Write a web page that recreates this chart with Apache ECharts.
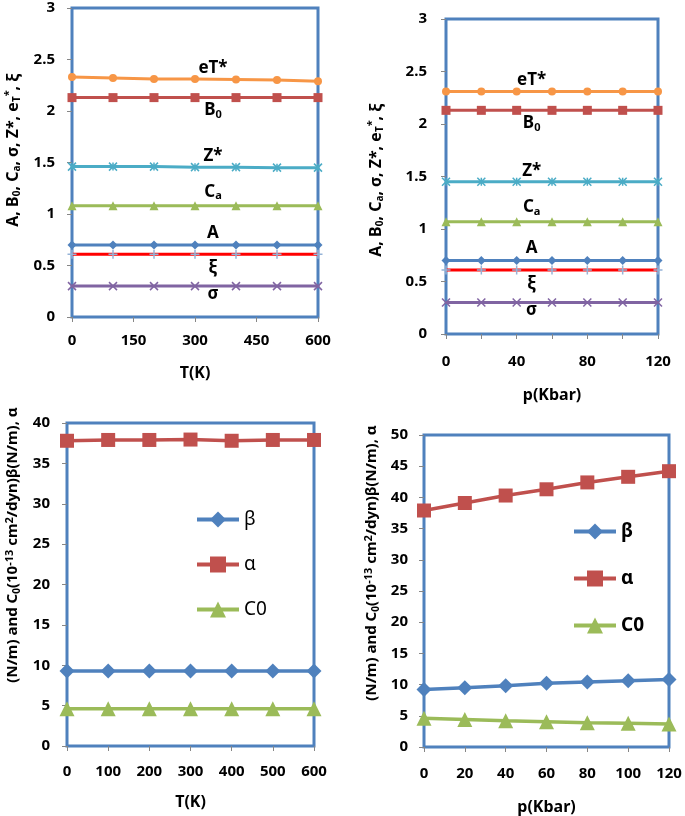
<!DOCTYPE html>
<html>
<head>
<meta charset="utf-8">
<script src="https://cdn.jsdelivr.net/npm/echarts@6/dist/echarts.min.js"></script>
<style>
  html, body { margin: 0; padding: 0; background: #fff; }
  #chart { width: 685px; height: 816px; }
</style>
</head>
<body>
<div id="chart"></div>
<script>
// x values
const tempK = [0, 100, 200, 300, 400, 500, 600]
const presKbar = [0, 20, 40, 60, 80, 100, 120]

// top left: vs T
const eT_T = [2.33, 2.32, 2.31, 2.31, 2.305, 2.30, 2.29]
const B0_T = [2.13, 2.13, 2.13, 2.13, 2.13, 2.13, 2.13]
const Z_T = [1.46, 1.46, 1.46, 1.455, 1.455, 1.45, 1.45]
const Ca_T = [1.08, 1.08, 1.08, 1.08, 1.08, 1.08, 1.08]
const A_T = [0.70, 0.70, 0.70, 0.70, 0.70, 0.70, 0.70]
const xi_T = [0.61, 0.61, 0.61, 0.61, 0.61, 0.61, 0.61]
const sigma_T = [0.30, 0.30, 0.30, 0.30, 0.30, 0.30, 0.30]

// top right: vs p
const eT_p = [2.31, 2.31, 2.31, 2.31, 2.31, 2.31, 2.31]
const B0_p = [2.13, 2.13, 2.13, 2.13, 2.13, 2.13, 2.13]
const Z_p = [1.45, 1.45, 1.45, 1.45, 1.45, 1.45, 1.45]
const Ca_p = [1.07, 1.07, 1.07, 1.07, 1.07, 1.07, 1.07]
const A_p = [0.70, 0.70, 0.70, 0.70, 0.70, 0.70, 0.70]
const xi_p = [0.61, 0.61, 0.61, 0.61, 0.61, 0.61, 0.61]
const sigma_p = [0.30, 0.30, 0.30, 0.30, 0.30, 0.30, 0.30]

// bottom left: vs T
const beta_T = [9.3, 9.3, 9.3, 9.3, 9.3, 9.3, 9.3]
const alpha_T = [37.8, 37.9, 37.9, 37.95, 37.8, 37.9, 37.9]
const C0_T = [4.6, 4.6, 4.6, 4.6, 4.6, 4.6, 4.6]

// bottom right: vs p
const beta_p = [9.2, 9.5, 9.8, 10.2, 10.4, 10.6, 10.8]
const alpha_p = [37.9, 39.1, 40.3, 41.3, 42.4, 43.3, 44.2]
const C0_p = [4.6, 4.4, 4.2, 4.05, 3.9, 3.8, 3.7]

const FONT = 'Noto Sans'
const FRAME = '#4F81BD'
const TICK = '#868686'

function richOf(size) {
  return {
    m: { fontFamily: FONT, fontWeight: 'bold', fontSize: size, color: '#000', lineHeight: size + 3 },
    s: { fontFamily: FONT, fontWeight: 'bold', fontSize: Math.round(size * 0.65), color: '#000', lineHeight: 10, verticalAlign: 'bottom' },
    p: { fontFamily: FONT, fontWeight: 'bold', fontSize: Math.round(size * 0.7), color: '#000', lineHeight: 10, verticalAlign: 'top' }
  }
}
const labelRich = richOf(17)

const PLUS = 'path://M0,5L10,5M5,0L5,10'
const CROSS = 'path://M0,0L10,10M10,0L0,10'
const STAR = 'path://M0,0L10,10M10,0L0,10M5,0L5,10'

function pairs(xs, ys) {
  return xs.map((x, i) => [x, ys[i]])
}

// one labelled point per curve (top panels)
function labelled(xs, ys, idx, text, offset) {
  return xs.map((x, i) => {
    if (i !== idx) return [x, ys[i]]
    return {
      value: [x, ys[i]],
      label: { show: true, position: 'inside', formatter: text, offset: offset, rich: labelRich }
    }
  })
}

function topSeries(gi, xs, idx, dx, d) {
  const mk = (name, ys, color, symbol, size, text, dy, extra) => Object.assign({
    name: name,
    type: 'line',
    xAxisIndex: gi, yAxisIndex: gi,
    data: labelled(xs, ys, idx, text, [dx, dy]),
    symbol: symbol,
    symbolSize: size,
    lineStyle: { color: color, width: 3 },
    itemStyle: { color: color },
    emphasis: { disabled: true },
    z: 3
  }, extra || {})
  return [
    mk('eT*', d.eT, '#F79646', 'circle', 8, '{m|eT*}', -11),
    mk('B0', d.B0, '#C0504D', 'rect', 9, '{m|B}{s|0}', 13),
    mk('Z*', d.Z, '#4BACC6', STAR, 8, '{m|Z*}', -11, { itemStyle: { color: 'none', borderColor: '#4BACC6', borderWidth: 1.5 } }),
    mk('Ca', d.Ca, '#9BBB59', 'triangle', 9, '{m|C}{s|a}', -14),
    mk('A', d.A, '#4F81BD', 'diamond', 9, '{m|A}', -12),
    mk('ξ', d.xi, '#FF0000', PLUS, 9, '{m|ξ}', 14, { itemStyle: { color: 'none', borderColor: '#95B3D7', borderWidth: 1.5 } }),
    mk('σ', d.sigma, '#8064A2', CROSS, 8, '{m|σ}', 8, { itemStyle: { color: 'none', borderColor: '#8064A2', borderWidth: 1.5 } })
  ]
}

function bottomSeries(gi, xs, beta, alpha, c0) {
  const mk = (name, ys, color, symbol, size) => ({
    name: name,
    type: 'line',
    xAxisIndex: gi, yAxisIndex: gi,
    data: pairs(xs, ys),
    symbol: symbol,
    symbolSize: size,
    lineStyle: { color: color, width: 3.5 },
    itemStyle: { color: color },
    emphasis: { disabled: true },
    z: 3
  })
  return [
    mk('β', beta, '#4F81BD', 'diamond', 15),
    mk('α', alpha, '#C0504D', 'rect', 14),
    mk('C0', c0, '#9BBB59', 'triangle', 15)
  ]
}

const labelStyle = { color: '#000', fontFamily: FONT, fontWeight: 'bold', fontSize: 15 }

function xAxis(gi, max, interval, margin, name, gap, every) {
  return {
    type: 'value', gridIndex: gi, min: 0, max: max, interval: interval,
    axisLine: { show: false },
    axisTick: { show: true, length: 5, lineStyle: { color: TICK } },
    splitLine: { show: false },
    axisLabel: Object.assign({ margin: margin, formatter: v => (every && v % every !== 0) ? '' : String(v) }, labelStyle),
    name: name, nameLocation: 'middle', nameGap: gap,
    nameTextStyle: { color: '#000', fontFamily: FONT, fontWeight: 'bold', fontSize: 16 }
  }
}

function yAxis(gi, max, interval, margin) {
  return {
    type: 'value', gridIndex: gi, min: 0, max: max, interval: interval,
    axisLine: { show: false },
    axisTick: { show: true, length: 5, lineStyle: { color: TICK } },
    splitLine: { show: false },
    axisLabel: Object.assign({ margin: margin }, labelStyle)
  }
}

const gridBase = { show: true, borderColor: FRAME, borderWidth: 3, backgroundColor: 'transparent', containLabel: false }

const topTitle = '{m|A, B}{s|0}{m|, C}{s|a}{m|, σ, Z*, e}{s|T}{p|*}{m|, ξ}'
const botTitle = '{m|(N/m) and C}{s|0}{m|(10}{p|-13}{m| cm}{p|2}{m|/dyn)β(N/m), α}'

function vtitle(x, y, text, size) {
  return {
    type: 'text', x: x, y: y, rotation: Math.PI / 2,
    style: { text: text, rich: richOf(size), align: 'center', verticalAlign: 'middle' }
  }
}

const chart = echarts.init(document.getElementById('chart'))
chart.setOption({
  animation: false,
  grid: [
    Object.assign({ left: 72, top: 8, width: 246, height: 309 }, gridBase),
    Object.assign({ left: 446, top: 19, width: 212, height: 315 }, gridBase),
    Object.assign({ left: 67, top: 423, width: 247, height: 323 }, gridBase),
    Object.assign({ left: 424, top: 435, width: 245, height: 312 }, gridBase)
  ],
  xAxis: [
    xAxis(0, 600, 150, 16, 'T(K)', 48),
    xAxis(1, 120, 20, 20, 'p(Kbar)', 53, 40),
    xAxis(2, 600, 100, 18, 'T(K)', 48),
    xAxis(3, 120, 20, 19, 'p(Kbar)', 52)
  ],
  yAxis: [
    yAxis(0, 3, 0.5, 17),
    yAxis(1, 3, 0.5, 19),
    yAxis(2, 40, 5, 17),
    yAxis(3, 50, 5, 16)
  ],
  legend: [
    {
      data: ['β', 'α', 'C0'], orient: 'vertical', left: 190, top: 505,
      itemWidth: 42, itemHeight: 20, itemGap: 26,
      lineStyle: { width: 4 },
      textStyle: { color: '#000', fontFamily: FONT, fontSize: 19 },
      selectedMode: false
    },
    {
      data: ['β', 'α', 'C0'], orient: 'vertical', left: 567, top: 517,
      itemWidth: 42, itemHeight: 20, itemGap: 28,
      lineStyle: { width: 4 },
      textStyle: { color: '#000', fontFamily: FONT, fontWeight: 'bold', fontSize: 19 },
      selectedMode: false
    }
  ],
  graphic: [
    vtitle(13, 150, topTitle, 16),
    vtitle(376, 180, topTitle, 16),
    vtitle(13, 545, botTitle, 15),
    vtitle(372, 563, botTitle, 15)
  ],
  series: [].concat(
    topSeries(0, tempK, 3, 18, { eT: eT_T, B0: B0_T, Z: Z_T, Ca: Ca_T, A: A_T, xi: xi_T, sigma: sigma_T }),
    topSeries(1, presKbar, 2, 15, { eT: eT_p, B0: B0_p, Z: Z_p, Ca: Ca_p, A: A_p, xi: xi_p, sigma: sigma_p }),
    bottomSeries(2, tempK, beta_T, alpha_T, C0_T),
    bottomSeries(3, presKbar, beta_p, alpha_p, C0_p)
  )
})
</script>
</body>
</html>
